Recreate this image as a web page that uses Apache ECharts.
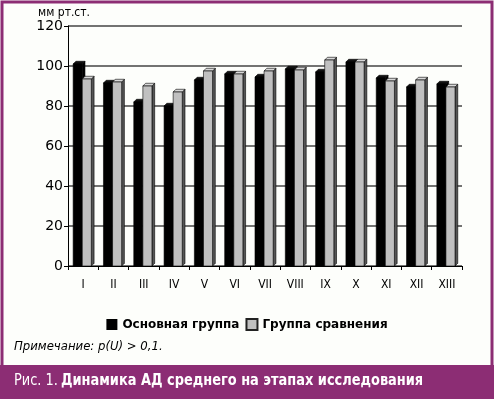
<!DOCTYPE html>
<html lang="ru">
<head>
  <meta charset="UTF-8">
  <title>Динамика АД среднего</title>
  <style>
    html, body { margin: 0; padding: 0; background: #fff; }
    #chart { width: 494px; height: 399px; }
  </style>
</head>
<body>
  <div id="chart"></div>
  <script src="https://cdn.jsdelivr.net/npm/echarts@6/dist/echarts.min.js"></script>
  <script>
    // этапы исследования
    const stages = ['I', 'II', 'III', 'IV', 'V', 'VI', 'VII', 'VIII', 'IX', 'X', 'XI', 'XII', 'XIII'];
    // АД среднее, мм рт.ст.
    const mainGroup = [101, 91.5, 82, 80, 93, 96, 94.5, 98.5, 97, 102, 94, 89.5, 91];
    const compareGroup = [93.5, 92, 90, 87, 97.5, 96, 97.5, 98, 103, 102, 92.5, 93, 89.5];

    const purple = '#8c2d74';

    // объёмный столбик (как в Excel): лицевая грань, верх и бок
    function bar3d(offset, front, topC, sideC) {
      return function (params, api) {
        const idx = api.value(0);
        const val = api.value(1);
        const top = api.coord([idx, val]);
        const base = api.coord([idx, 0]);
        const band = api.size([1, 0])[0];
        const w = band * 0.3;
        const d = band * 0.09;
        const x0 = top[0] + offset * band;
        const x1 = x0 + w;
        const yt = top[1];
        const yb = base[1];
        const stroke = { stroke: '#000', lineWidth: 0.6 };
        return {
          type: 'group',
          children: [
            {
              type: 'polygon',
              shape: { points: [[x1, yt], [x1 + d, yt - d], [x1 + d, yb - d], [x1, yb]] },
              style: Object.assign({ fill: sideC }, stroke)
            },
            {
              type: 'polygon',
              shape: { points: [[x0, yt], [x0 + d, yt - d], [x1 + d, yt - d], [x1, yt]] },
              style: Object.assign({ fill: topC }, stroke)
            },
            {
              type: 'rect',
              shape: { x: x0, y: yt, width: w, height: yb - yt },
              style: Object.assign({ fill: front }, stroke)
            }
          ]
        };
      };
    }

    let chart = echarts.init(document.getElementById('chart'));
    let option = {
      backgroundColor: '#fdfefb',
      animation: false,
      grid: { left: 68, right: 32, top: 26, bottom: 133 },
      legend: {
        top: 313,
        left: 'center',
        itemGap: 6,
        itemWidth: 11,
        itemHeight: 11,
        icon: 'rect',
        textStyle: { fontFamily: 'DejaVu Sans', fontWeight: 'bold', fontSize: 12, color: '#000' },
        data: ['Основная группа', 'Группа сравнения']
      },
      xAxis: {
        type: 'category',
        data: stages,
        boundaryGap: true,
        axisLine: { lineStyle: { color: '#000', width: 1 } },
        axisTick: { show: true, length: 4, lineStyle: { color: '#000' } },
        axisLabel: { color: '#000', fontFamily: 'DejaVu Sans Condensed', fontSize: 12, margin: 13 }
      },
      yAxis: {
        type: 'value',
        min: 0,
        max: 120,
        interval: 20,
        name: 'мм рт.ст.',
        nameLocation: 'end',
        nameGap: -3,
        nameTextStyle: { color: '#000', fontFamily: 'DejaVu Sans Condensed', fontSize: 12, align: 'right', padding: [0, -22, 0, 0] },
        axisLine: { show: true, lineStyle: { color: '#000' } },
        axisTick: { show: true, length: 4, lineStyle: { color: '#000' } },
        axisLabel: { color: '#000', fontFamily: 'DejaVu Sans', fontSize: 14, margin: 5 },
        splitLine: { lineStyle: { color: '#444', width: 1.5 } }
      },
      series: [
        {
          name: 'Основная группа',
          type: 'custom',
          renderItem: bar3d(-0.33, '#000', '#111', '#000'),
          itemStyle: { color: '#000', borderColor: '#000' },
          encode: { x: 0, y: 1 },
          data: mainGroup.map((v, i) => [i, v])
        },
        {
          name: 'Группа сравнения',
          type: 'custom',
          renderItem: bar3d(-0.03, '#c0c0c0', '#d8d8d8', '#555'),
          itemStyle: { color: '#c0c0c0', borderColor: '#222', borderWidth: 1 },
          encode: { x: 0, y: 1 },
          data: compareGroup.map((v, i) => [i, v])
        }
      ],
      graphic: [
        {
          type: 'rect',
          z: -1,
          shape: { x: 2, y: 2, width: 490, height: 396 },
          style: { fill: 'none', stroke: purple, lineWidth: 3 }
        },
        {
          type: 'rect',
          shape: { x: 0, y: 365, width: 494, height: 34 },
          style: { fill: purple }
        },
        {
          type: 'text',
          left: 14,
          top: 340,
          style: {
            text: 'Примечание: p(U) > 0,1.',
            font: 'italic 13px "DejaVu Sans Condensed"',
            fill: '#000'
          }
        },
        {
          type: 'text',
          x: 14,
          y: 373,
          scaleX: 0.9,
          style: {
            text: '{r|Рис. 1.} {b|Динамика АД среднего на этапах исследования}',
            fill: '#fff',
            rich: {
              r: { fontFamily: 'DejaVu Sans Condensed', fontSize: 16, fill: '#fff' },
              b: { fontFamily: 'DejaVu Sans Condensed', fontWeight: 'bold', fontSize: 16, fill: '#fff' }
            }
          }
        }
      ]
    };
    chart.setOption(option);
  </script>
</body>
</html>
